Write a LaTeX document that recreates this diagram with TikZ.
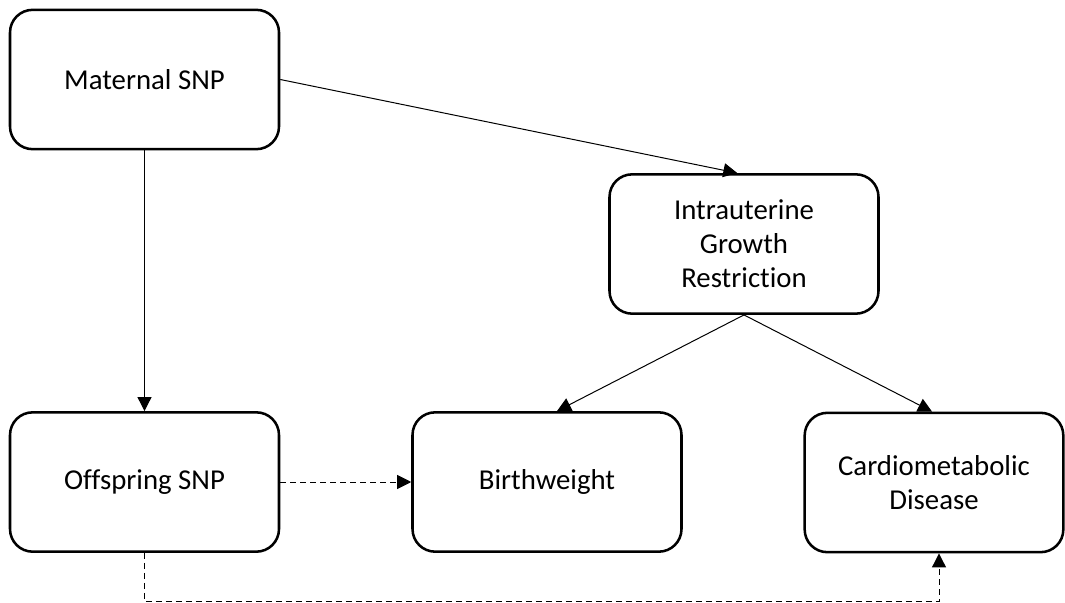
\documentclass[tikz,border=0pt]{standalone}
\usepackage{fontspec}
\setmainfont{Carlito}[Ligatures=NoCommon]
\usetikzlibrary{arrows.meta,calc}
\tikzset{
  stagebox/.style={draw, line width=1.9pt, rounded corners=17pt, align=center,
    inner sep=0pt, minimum width=201.75pt, minimum height=104.5pt,
    font=\fontsize{21.6}{25.5}\selectfont},
  causal/.style={line width=0.75pt, -{Triangle[length=10.5pt,width=10.5pt]}},
  assoc/.style={causal, dash pattern=on 4.5pt off 3pt}
}
\begin{document}
\begin{tikzpicture}[x=0.75pt,y=-0.75pt]
                    \useasboundingbox (0,0) rectangle (1065,603);

                    % Drawing box Maternal SNP
                    \node [stagebox] (maternal) at (144.5,79.5) {Maternal SNP};%

                    % Drawing box Intrauterine Growth Restriction
                    \node [stagebox] (iugr) at (744,244) {Intrauterine\\Growth\\Restriction};%

                    % Drawing box Offspring SNP
                    \node [stagebox] (offspring) at (144.5,482) {Offspring SNP};%

                    % Drawing box Birthweight
                    \node [stagebox] (birthweight) at (547,482) {Birthweight};%

                    % Drawing box Cardiometabolic Disease
                    \node [stagebox, minimum width=194pt] (cardio) at (934,482.5) {Cardiometabolic\\Disease};%

                    % Marking corner of the lower dashed path
                    \coordinate (under) at (144.5,601.5);%

                    % Drawing causal arrows
                    \draw [causal] (maternal.east) -- ([xshift=-5pt]iugr.north);%
                    \draw [causal] (maternal.south) -- (offspring.north);%
                    \draw [causal] (iugr.south) -- ([xshift=7.5pt]birthweight.north);%
                    \draw [causal] (iugr.south) -- ([xshift=-1.5pt]cardio.north);%

                    % Drawing dashed arrows
                    \draw [assoc] (offspring.east) -- (birthweight.west);%
                    \draw [assoc] (offspring.south) -- (under) -| ([xshift=3.75pt]cardio.south);%
\end{tikzpicture}
\end{document}
